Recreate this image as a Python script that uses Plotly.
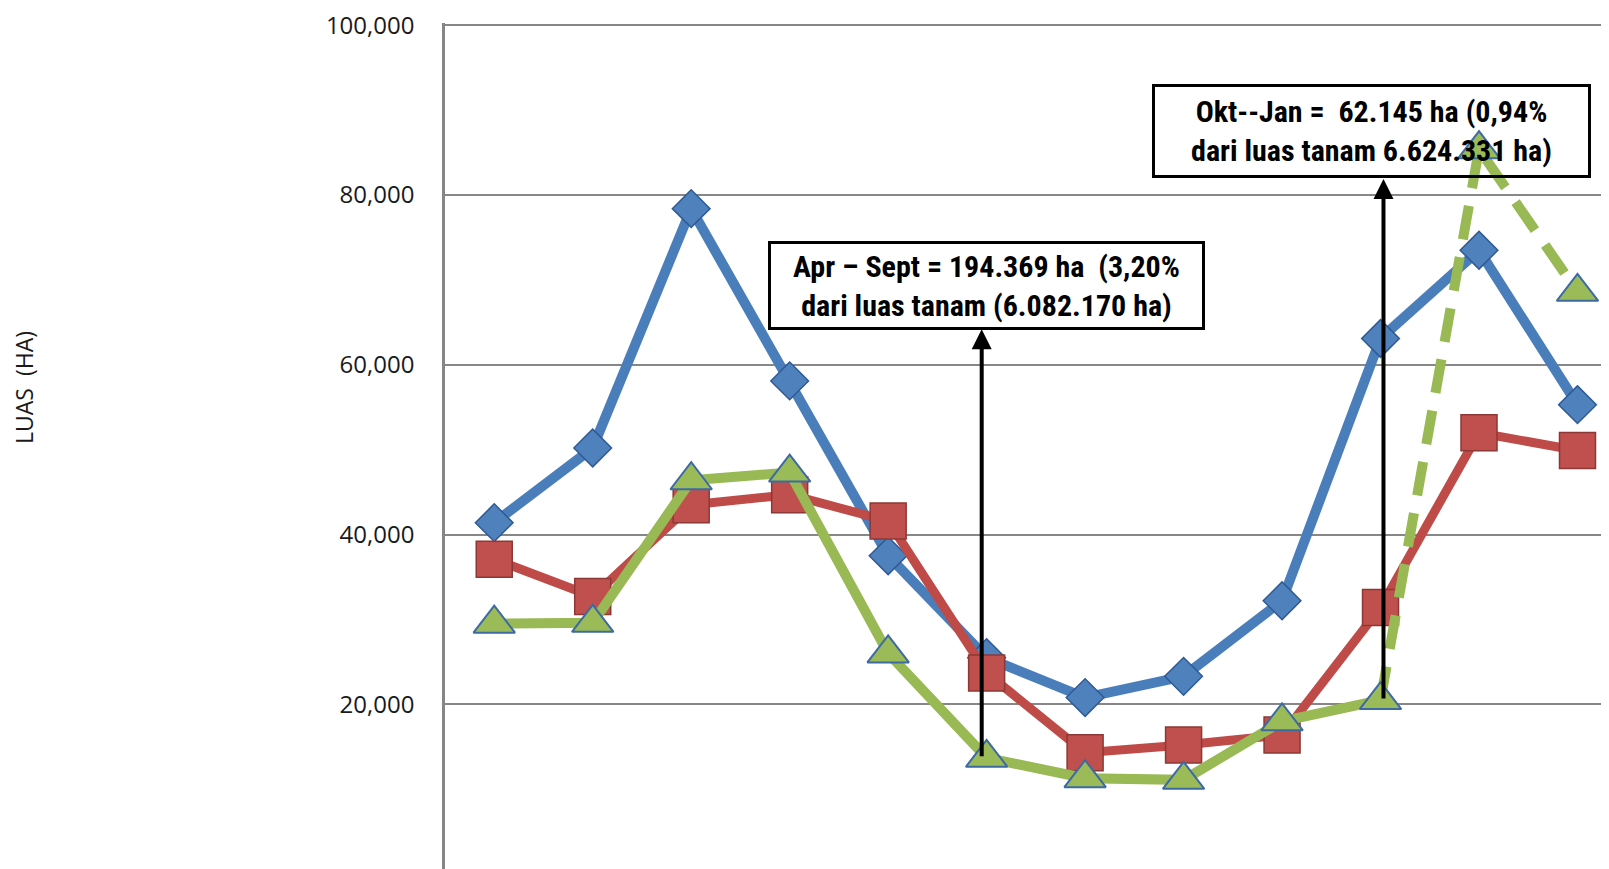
import plotly.graph_objects as go

# Categories (x labels are cropped out of the reference)
months = ["Jan", "Feb", "Mar", "Apr", "Mei", "Jun", "Jul", "Agu", "Sep", "Okt", "Nov", "Des"]

# Series values (ha)
seri_1 = [41400, 50200, 78400, 58100, 37500, 25500, 20800, 23300, 32200, 63100, 73500, 55300]
seri_2 = [37100, 32700, 43500, 44700, 41600, 23700, 14300, 15200, 16400, 31400, 52000, 49900]
seri_3 = [29500, 29600, 46400, 47300, 26000, 13700, 11300, 11100, 18000, 20500, 85400, 68600]

y_ticks = [20000, 40000, 60000, 80000, 100000]
y_tick_text = ["20,000", "40,000", "60,000", "80,000", "100,000"]

note_1 = "Apr – Sept = 194.369 ha  (3,20%<br>dari luas tanam (6.082.170 ha)"
note_2 = "Okt--Jan =  62.145 ha (0,94%<br>dari luas tanam 6.624.331 ha)"
y_title = "LUAS  (HA)"

BLUE, BLUE_LINE, BLUE_EDGE = "#4F81BD", "#4A7EBB", "#2F5A93"
RED, RED_LINE, RED_EDGE = "#C0504D", "#BE4B48", "#8C3836"
GREEN, GREEN_LINE, GREEN_EDGE = "#9BBB59", "#98B954", "#3D6AA3"

fig = go.Figure()

fig.add_trace(go.Scatter(
    x=months, y=seri_1, mode="lines+markers", name="Seri 1",
    line=dict(color=BLUE_LINE, width=10),
    marker=dict(symbol="diamond", size=29, color=BLUE, line=dict(color=BLUE_EDGE, width=1.5)),
))
fig.add_trace(go.Scatter(
    x=months, y=seri_2, mode="lines+markers", name="Seri 2",
    line=dict(color=RED_LINE, width=9),
    marker=dict(symbol="square", size=36, color=RED, line=dict(color=RED_EDGE, width=1.5)),
))
fig.add_trace(go.Scatter(
    x=months[:10], y=seri_3[:10], mode="lines", name="Seri 3",
    line=dict(color=GREEN_LINE, width=10),
))
fig.add_trace(go.Scatter(
    x=months[9:], y=seri_3[9:], mode="lines", name="Seri 3 (proyeksi)",
    line=dict(color=GREEN_LINE, width=10, dash="34px,18px"),
))
fig.add_trace(go.Scatter(
    x=months, y=seri_3, mode="markers", name="Seri 3",
    marker=dict(symbol="triangle-up", size=36, color=GREEN, line=dict(color=GREEN_EDGE, width=2)),
))

FONT_BOX = "Liberation Sans Narrow, Roboto Condensed, Liberation Sans, sans-serif"

annotations = [
    # arrows (tip near the boxes, tail at green points)
    dict(x=4.95, y=64200, ax=4.95, ay=seri_3[5], xref="x", yref="y", axref="x", ayref="y",
         text="", showarrow=True, arrowhead=2, arrowsize=1.0, arrowwidth=4, arrowcolor="#000000",
         standoff=0, startstandoff=0),
    dict(x=9.03, y=81900, ax=9.03, ay=seri_3[9], xref="x", yref="y", axref="x", ayref="y",
         text="", showarrow=True, arrowhead=2, arrowsize=1.0, arrowwidth=4, arrowcolor="#000000",
         standoff=0, startstandoff=0),
    # text boxes
    dict(x=5.0, y=69400, xref="x", yref="y", text=note_1, showarrow=False,
         font=dict(family=FONT_BOX, size=30, color="#000000", weight="bold"),
         bordercolor="#000000", borderwidth=3, borderpad=2, bgcolor="rgba(255,255,255,0)",
         width=427, height=79, align="center", valign="middle"),
    dict(x=8.91, y=87500, xref="x", yref="y", text=note_2, showarrow=False,
         font=dict(family=FONT_BOX, size=30, color="#000000", weight="bold"),
         bordercolor="#000000", borderwidth=3, borderpad=2, bgcolor="rgba(255,255,255,0)",
         width=429, height=84, align="center", valign="middle"),
    # y-axis title
    dict(x=-0.3618, y=0.5696, xref="paper", yref="paper", text=y_title, showarrow=False,
         xanchor="center", yanchor="middle",
         textangle=-90, font=dict(family="Open Sans", size=23, color="#1a1a1a")),
]

# The page body adds an 8px offset; margins compensate for it.
fig.update_layout(
    width=1601, height=861,
    margin=dict(l=437, r=0, t=13, b=0, pad=0),
    paper_bgcolor="white", plot_bgcolor="white",
    showlegend=False,
    annotations=annotations,
    xaxis=dict(
        type="category", range=[-0.5, 11.32], showticklabels=False, ticks="",
        showgrid=False, zeroline=False, showline=False,
    ),
    yaxis=dict(
        range=[599, 100270], tickvals=y_ticks, ticktext=y_tick_text,
        ticks="", ticklabelstandoff=23, ticklabeloverflow="allow",
        tickfont=dict(family="Open Sans", size=24, color="#1a1a1a"),
        showgrid=True, gridcolor="#878787", gridwidth=2,
        zeroline=False, showline=True, linecolor="#868686", linewidth=2.5,
    ),
)

fig.write_html("out.html")
